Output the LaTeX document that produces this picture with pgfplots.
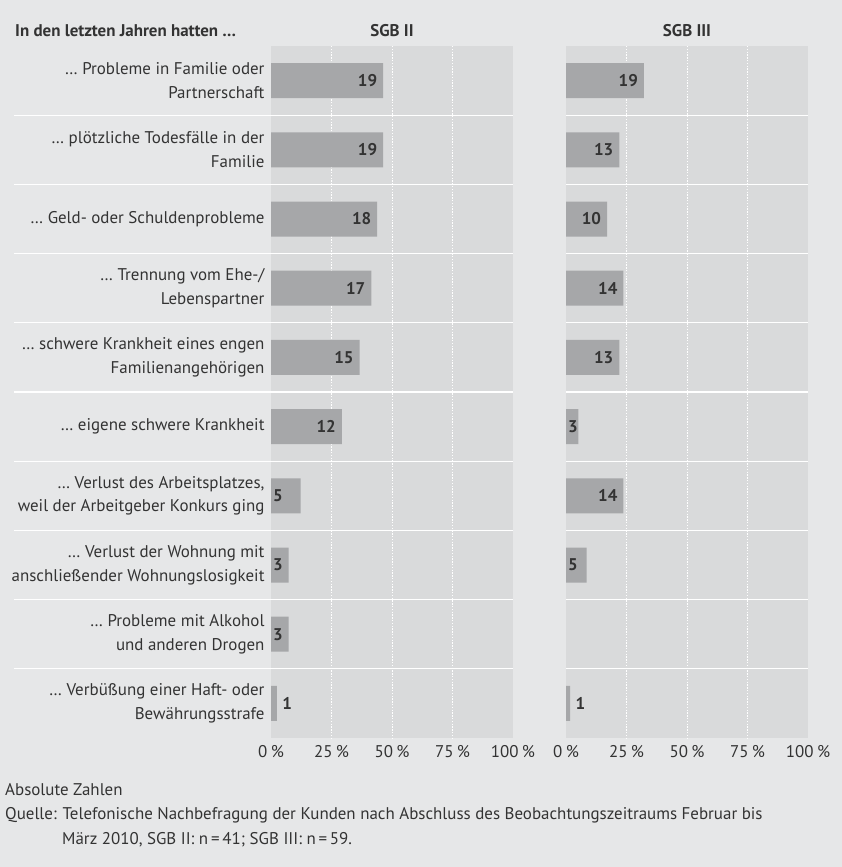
\documentclass[border=0pt]{standalone}
\usepackage{pgfplots}
\pgfplotsset{compat=1.18}
\usepackage{pgfplotstable}
\usepackage{fontspec}
\setmainfont{PT Sans}

\definecolor{bgc}{HTML}{E6E7E8}
\definecolor{panelc}{HTML}{D9DADB}
\definecolor{barc}{HTML}{A6A7A9}
\definecolor{txtc}{HTML}{333333}
\newcommand\lbl{\fontsize{17}{24}\selectfont}

% row, share of respondents in %, absolute count
\pgfplotstableread{
row pct n
1 46.34 19
2 46.34 19
3 43.90 18
4 41.46 17
5 36.59 15
6 29.27 12
7 12.20 5
8 7.32 3
9 7.32 3
10 2.44 1
}\sgbii
\pgfplotstableread{
row pct n
1 32.20 19
2 22.03 13
3 16.95 10
4 23.73 14
5 22.03 13
6 5.08 3
7 23.73 14
8 8.47 5
10 1.69 1
}\sgbiii

\pgfplotsset{panel/.style={
  scale only axis, width=242bp, height=692bp, anchor=south west,
  xmin=0, xmax=100, ymin=0.5, ymax=10.5, y dir=reverse,
  axis line style={draw=none}, axis background/.style={fill=panelc},
  xtick={0,25,50,75,100},
  xticklabels={0\hspace{0.2em}\%,25\hspace{0.2em}\%,50\hspace{0.2em}\%,75\hspace{0.2em}\%,100\hspace{0.2em}\%},
  extra x ticks={25,50,75}, extra x tick style={grid=major, xticklabels={}},
  major grid style={white, line width=1bp, dash pattern=on 1.4bp off 1.4bp},
  major tick length=0pt,
  tick label style={font=\lbl, text=txtc},
  xticklabel style={yshift=-4bp},
  xbar, bar shift=0pt, bar width=35bp,
  point meta=explicit,
  /pgf/number format/assume math mode=true,
  clip=false,
},
endlab/.style={draw=none, fill=none, nodes near coords,
  every node near coord/.append style={anchor=east, xshift=-2.5bp, font=\lbl\bfseries, text=txtc}},
startlab/.style={draw=none, fill=none, nodes near coords,
  every node near coord/.append style={anchor=west, xshift=-1.5bp, font=\lbl\bfseries, text=txtc}},
outlab/.style={draw=none, fill=none, nodes near coords,
  every node near coord/.append style={anchor=west, xshift=2bp, font=\lbl\bfseries, text=txtc}},
}

\begin{document}
\begin{tikzpicture}
\useasboundingbox (0bp,0bp) rectangle (842bp,867bp);
\fill[bgc] (0bp,0bp) rectangle (842bp,867bp);

\begin{axis}[panel, at={(271bp,129bp)},
  ytick={1,...,10},
  yticklabels={
    {… Probleme in Familie oder\\Partnerschaft},
    {… plötzliche Todesfälle in der\\Familie},
    {… Geld- oder Schuldenprobleme},
    {… Trennung vom Ehe-/\\Lebenspartner},
    {… schwere Krankheit eines engen\\Familienangehörigen},
    {… eigene schwere Krankheit},
    {… Verlust des Arbeitsplatzes,\\weil der Arbeitgeber Konkurs ging},
    {… Verlust der Wohnung mit\\anschließender Wohnungslosigkeit},
    {… Probleme mit Alkohol\\und anderen Drogen},
    {… Verbüßung einer Haft- oder\\Bewährungsstrafe}},
  yticklabel style={align=right, xshift=-3bp},
]
\pgfplotsinvokeforeach{1.5,2.5,...,9.5}{
  \draw[white, line width=1.3bp] ([xshift=-257bp]axis cs:0,#1) -- (axis cs:100,#1);
}
\addplot[fill=barc, draw=none] table[x=pct, y=row, meta=n] {\sgbii};
\addplot[endlab] coordinates {(46.34,1)[19] (46.34,2)[19] (43.90,3)[18] (41.46,4)[17] (36.59,5)[15] (29.27,6)[12]};
\addplot[startlab] coordinates {(0,7)[5] (0,8)[3] (0,9)[3]};
\addplot[outlab] coordinates {(2.44,10)[1]};
\node[font=\lbl\bfseries, text=txtc] at ([yshift=15bp]rel axis cs:0.5,1) {SGB II};
\end{axis}

\begin{axis}[panel, at={(566bp,129bp)}, ytick=\empty]
\pgfplotsinvokeforeach{1.5,2.5,...,9.5}{
  \draw[white, line width=1.3bp] (axis cs:0,#1) -- (axis cs:100,#1);
}
\addplot[fill=barc, draw=none] table[x=pct, y=row, meta=n] {\sgbiii};
\addplot[endlab] coordinates {(32.20,1)[19] (22.03,2)[13] (16.95,3)[10] (23.73,4)[14] (22.03,5)[13] (23.73,7)[14]};
\addplot[startlab] coordinates {(0,6)[3] (0,8)[5]};
\addplot[outlab] coordinates {(1.69,10)[1]};
\node[font=\lbl\bfseries, text=txtc] at ([yshift=15bp]rel axis cs:0.5,1) {SGB III};
\end{axis}

\node[anchor=west, inner sep=0, font=\lbl\bfseries, text=txtc] at (15bp,836bp) {In den letzten Jahren hatten …};
\node[anchor=base west, inner sep=0, font=\lbl, text=txtc] at (5bp,71bp) {Absolute Zahlen};
\node[anchor=base west, inner sep=0, font=\lbl, text=txtc] at (5bp,47bp) {Quelle: Telefonische Nachbefragung der Kunden nach Abschluss des Beobachtungszeitraums Februar bis};
\node[anchor=base west, inner sep=0, font=\lbl, text=txtc] at (62bp,23bp) {März 2010, SGB II: n\,=\,41; SGB III: n\,=\,59.};
\end{tikzpicture}
\end{document}
